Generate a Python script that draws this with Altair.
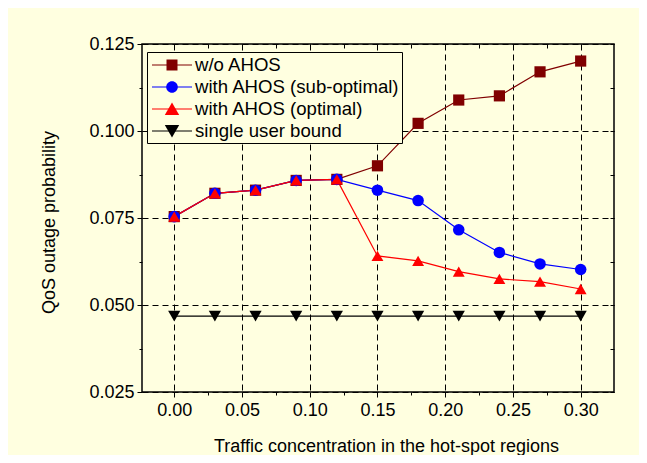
import altair as alt
import pandas as pd

# ---- data ----
x_vals = [0.00, 0.03, 0.06, 0.09, 0.12, 0.15, 0.18, 0.21, 0.24, 0.27, 0.30]
wo_ahos = [0.0754, 0.0821, 0.0830, 0.0858, 0.0861, 0.0900, 0.1022, 0.1089, 0.1101, 0.1170, 0.1201]
sub_opt = [0.0754, 0.0821, 0.0830, 0.0858, 0.0861, 0.0830, 0.0800, 0.0716, 0.0651, 0.0618, 0.0602]
opt = [0.0754, 0.0821, 0.0830, 0.0858, 0.0861, 0.0641, 0.0627, 0.0596, 0.0575, 0.0567, 0.0546]
single = [0.0468, 0.0468, 0.0468, 0.0468, 0.0468, 0.0468, 0.0468, 0.0468, 0.0468, 0.0468, 0.0468]

names = ["w/o AHOS", "with AHOS (sub-optimal)", "with AHOS (optimal)", "single user bound"]
colors = ["#800000", "#0000FF", "#FF0000", "#000000"]
shapes = ["square", "circle", "triangle-up", "triangle-down"]
sizes = [125, 150, 215, 185]
# legend marker paths (units: half of sqrt(symbolSize))
legend_markers = [
    "M-0.55,-0.55H0.55V0.55H-0.55Z",
    "M-0.58,0A0.58,0.58 0 1,0 0.58,0A0.58,0.58 0 1,0 -0.58,0Z",
    "M-0.72,0.6L0.72,0.6L0,-0.66Z",
    "M-0.72,-0.6L0.72,-0.6L0,0.66Z",
]
legend_line = "M-2,0H2"

x_ticks = [round(0.025 * i, 4) for i in range(13)]
y_ticks = [round(0.025 + 0.0125 * i, 5) for i in range(9)]

bg = "#FFFFE0"

series_values = [wo_ahos, sub_opt, opt, single]
rows = []
for name, vals in zip(names, series_values):
    for xv, yv in zip(x_vals, vals):
        rows.append({"x": xv, "y": yv, "series": name})
df = pd.DataFrame(rows)

xscale = alt.Scale(domain=[-0.0238, 0.3246], nice=False, zero=False)
yscale = alt.Scale(domain=[0.025, 0.125], nice=False, zero=False)

major_x = "round(datum.value*40) % 2 == 0"
major_y = "round(datum.value*80) % 2 == 0"

x_axis = alt.Axis(
    values=x_ticks,
    labelExpr=f"({major_x}) ? format(datum.value, '.2f') : ''",
    tickSize={"condition": {"test": major_x, "value": 5}, "value": 3},
    tickColor="black",
    grid=True,
    gridColor="black",
    gridDash=[6, 4],
    gridWidth=1,
    gridOpacity={"condition": {"test": major_x, "value": 1}, "value": 0},
    domain=False,
    labelFontSize=18,
    labelColor="black",
    labelPadding=4,
    labelFlush=False,
    title="Traffic concentration in the hot-spot regions",
    titleFontSize=18,
    titleFontWeight="normal",
    titleColor="black",
    titleX=244,
    titleY=59,
    titleAlign="center",
    titleBaseline="alphabetic",
)
y_axis = alt.Axis(
    values=y_ticks,
    labelExpr=f"({major_y}) ? format(datum.value, '.3f') : ''",
    tickSize={"condition": {"test": major_y, "value": 5}, "value": 3},
    tickColor="black",
    grid=True,
    gridColor="black",
    gridDash=[6, 4],
    gridWidth=1,
    gridOpacity={"condition": {"test": major_y, "value": 1}, "value": 0},
    domain=False,
    labelFontSize=18,
    labelColor="black",
    labelPadding=3,
    labelFlush=False,
    title="QoS outage probability",
    titleFontSize=18,
    titleFontWeight="normal",
    titleColor="black",
    titleX=-93,
    titleY=178,
    titleAngle=270,
    titleAlign="center",
    titleBaseline="middle",
)


def color_scale():
    return alt.Scale(domain=names, range=colors)


common_leg = dict(
    orient="none",
    legendX=5,
    legendY=8,
    title=None,
    symbolSize=400,
    symbolStrokeWidth=1.2,
    symbolOffset=12,
    labelOffset=12,
    labelFontSize=18.6,
    labelColor="black",
    labelLimit=400,
    padding=2,
    rowPadding=1,
)
# lower legend: box, line symbols, labels
leg_lines = alt.Legend(fillColor=bg, strokeColor="black", zindex=1, **common_leg)
# upper legend: only the filled markers
leg_marks = alt.Legend(labelOpacity=0, zindex=2, **common_leg)

lines = alt.Chart(df).mark_line(strokeWidth=1.2).encode(
    x=alt.X("x:Q", scale=xscale, axis=x_axis),
    y=alt.Y("y:Q", scale=yscale, axis=y_axis),
    color=alt.Color("series:N", scale=color_scale(), legend=None),
)

points = alt.Chart(df).mark_point(filled=True, opacity=1).encode(
    x=alt.X("x:Q", scale=xscale, axis=None),
    y=alt.Y("y:Q", scale=yscale, axis=None),
    color=alt.Color("series:N", scale=color_scale(), legend=None),
    shape=alt.Shape("series:N", scale=alt.Scale(domain=names, range=shapes), legend=None),
    size=alt.Size("series:N", scale=alt.Scale(domain=names, range=sizes), legend=None),
)

legend_line_layer = alt.Chart(df).transform_filter("false").mark_point(filled=False, opacity=1, strokeWidth=1.2).encode(
    color=alt.Color("series:N", scale=color_scale(), legend=leg_lines),
    shape=alt.Shape("series:N", scale=alt.Scale(domain=names, range=[legend_line] * 4), legend=leg_lines),
)

legend_mark_layer = alt.Chart(df).transform_filter("false").mark_point(filled=True, opacity=1).encode(
    color=alt.Color("series:N", scale=color_scale(), legend=leg_marks),
    shape=alt.Shape("series:N", scale=alt.Scale(domain=names, range=legend_markers), legend=leg_marks),
)

frame = alt.Chart(df).mark_line(opacity=0).encode(
    x=alt.X("x:Q", scale=xscale, axis=alt.Axis(orient="top", values=x_ticks, labels=False, tickSize=4,
                                               offset=-4, domain=False, grid=False, title=None,
                                               tickColor="black")),
    y=alt.Y("y:Q", scale=yscale, axis=alt.Axis(orient="right", values=y_ticks, labels=False, tickSize=4,
                                               offset=-4, domain=False, grid=False, title=None,
                                               tickColor="black")),
    detail="series:N",
)

chart = (
    alt.layer(lines, points, legend_line_layer, legend_mark_layer, frame)
    .resolve_scale(color="independent", shape="independent")
    .resolve_axis(x="independent", y="independent")
    .properties(
        width=472,
        height=348,
        autosize=alt.AutoSizeParams(type="none"),
        padding={"left": 134, "top": 36, "right": 25, "bottom": 63},
        background=bg,
    )
    .configure(font="Liberation Sans")
    .configure_view(stroke="black", strokeWidth=1.5, fill=bg)
)

chart.save("out.html", embed_options={"renderer": "svg", "actions": False})
